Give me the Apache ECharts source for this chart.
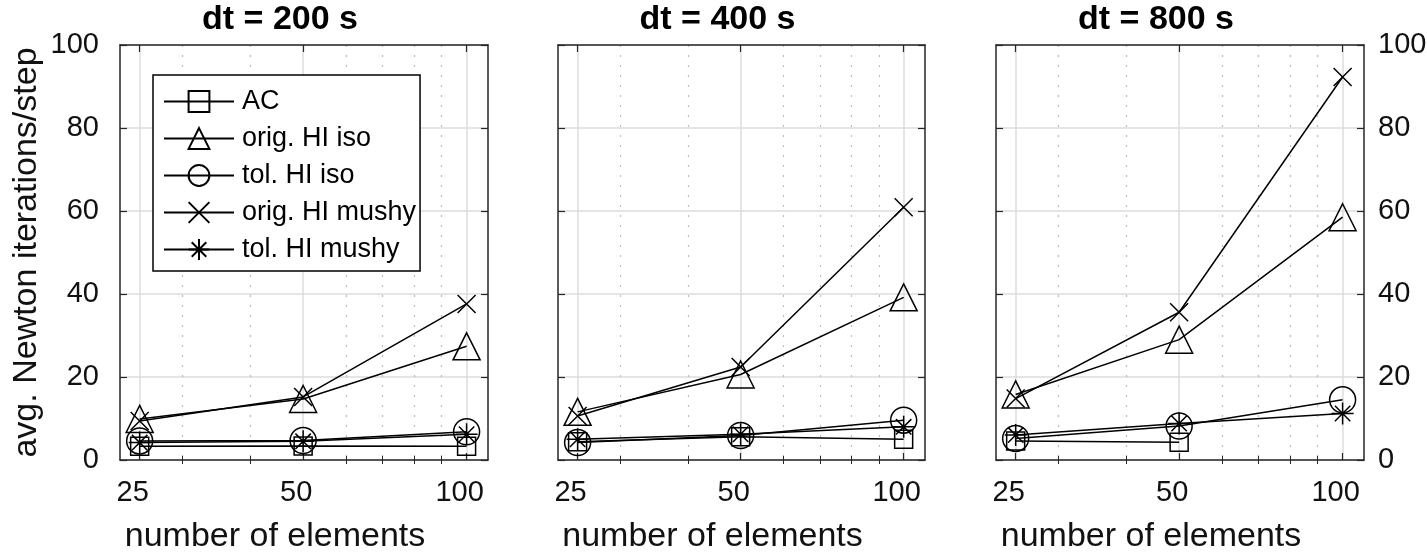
<!DOCTYPE html>
<html>
<head>
<meta charset="utf-8">
<script src="https://cdn.jsdelivr.net/npm/echarts@6/dist/echarts.min.js"></script>
<style>
html,body{margin:0;padding:0;background:#fff;}
#chart{width:1427px;height:557px;}
</style>
</head>
<body>
<div id="chart"></div>
<script>
// ---- data ----
const elements = [25, 50, 100];
const minorTicks = [30, 40, 60, 70, 80, 90];
const panelTitles = ['dt = 200 s', 'dt = 400 s', 'dt = 800 s'];
const seriesNames = ['AC', 'orig. HI iso', 'tol. HI iso', 'orig. HI mushy', 'tol. HI mushy'];

const ac200        = [3.3, 3.4, 3.3];
const origIso200   = [9.9, 14.7, 27.4];
const tolIso200    = [4.6, 4.7, 6.8];
const origMushy200 = [9.4, 15.2, 37.6];
const tolMushy200  = [4.2, 4.5, 6.2];

const ac400        = [4.4, 5.6, 5.0];
const origIso400   = [11.6, 20.6, 39.2];
const tolIso400    = [4.2, 5.9, 9.6];
const origMushy400 = [10.6, 22.4, 60.9];
const tolMushy400  = [5.0, 6.2, 8.0];

const ac800        = [4.6, 4.3, null];
const origIso800   = [15.8, 29.0, 58.5];
const tolIso800    = [5.2, 8.2, 14.5];
const origMushy800 = [14.8, 35.6, 92.3];
const tolMushy800  = [6.0, 8.8, 11.2];

const panelData = [
  [ac200, origIso200, tolIso200, origMushy200, tolMushy200],
  [ac400, origIso400, tolIso400, origMushy400, tolMushy400],
  [ac800, origIso800, tolIso800, origMushy800, tolMushy800]
];

// ---- styling ----
const FONT = "'Liberation Sans', Arial, Helvetica, sans-serif";
const AX = '#262626';
const symbols = [
  'rect',
  'triangle',
  'circle',
  'path://M0,0L10,10M10,0L0,10',
  'path://M5,0L5,10M0,5L10,5M1.5,1.5L8.5,8.5M8.5,1.5L1.5,8.5'
];
const symbolSizes = [18, 27, 26, 18, 22];

const grids = [
  {left: 120, top: 45, width: 368, height: 415, outerBoundsMode: 'none', containLabel: false},
  {left: 558, top: 45, width: 367, height: 415, outerBoundsMode: 'none', containLabel: false},
  {left: 996, top: 45, width: 368, height: 415, outerBoundsMode: 'none', containLabel: false}
];

const xMin = Math.log2(23);
const xMax = Math.log2(109.5);
const lg = v => Math.log2(v);

const xAxes = [], yAxes = [], series = [], graphics = [];
grids.forEach((g, p) => {
  const base = xAxes.length;
  // bottom main axis: labels, major ticks, major grid
  xAxes.push({
    type: 'value', gridIndex: p, position: 'bottom', min: xMin, max: xMax,
    axisLine: {show: true, onZero: false, lineStyle: {color: AX, width: 1.5}},
    axisTick: {show: true, inside: true, length: 7, lineStyle: {color: AX, width: 1.2}, customValues: elements.map(lg)},
    axisLabel: {show: true, margin: 18, fontSize: 29, fontFamily: FONT, color: '#111', padding: [0, 14, 0, 0],
      customValues: elements.map(lg), formatter: v => String(Math.round(Math.pow(2, v)))},
    splitLine: {show: true, lineStyle: {color: '#dcdcdc', width: 1.5}},
    name: 'number of elements', nameLocation: 'middle', nameGap: 60,
    nameTextStyle: {fontSize: 34, fontFamily: FONT, color: '#111', padding: [0, 58, 0, 0]}
  });
  // bottom minor axis: minor ticks + dotted minor grid
  xAxes.push({
    type: 'value', gridIndex: p, position: 'bottom', min: xMin, max: xMax,
    axisLine: {show: false},
    axisTick: {show: true, inside: true, length: 4, lineStyle: {color: AX, width: 1}, customValues: minorTicks.map(lg)},
    axisLabel: {show: false},
    splitLine: {show: true, lineStyle: {color: '#bdbdbd', width: 1.2, type: [2, 8]}}
  });
  // top axes (box)
  xAxes.push({
    type: 'value', gridIndex: p, position: 'top', min: xMin, max: xMax,
    axisLine: {show: true, onZero: false, lineStyle: {color: AX, width: 1.5}},
    axisTick: {show: true, inside: true, length: 7, lineStyle: {color: AX, width: 1.2}, customValues: elements.map(lg)},
    axisLabel: {show: false}, splitLine: {show: false}
  });
  xAxes.push({
    type: 'value', gridIndex: p, position: 'top', min: xMin, max: xMax,
    axisLine: {show: false},
    axisTick: {show: true, inside: true, length: 4, lineStyle: {color: AX, width: 1}, customValues: minorTicks.map(lg)},
    axisLabel: {show: false}, splitLine: {show: false}
  });
  const yBase = yAxes.length;
  yAxes.push({
    type: 'value', gridIndex: p, position: 'left', min: 0, max: 100, interval: 20,
    axisLine: {show: true, onZero: false, lineStyle: {color: AX, width: 1.5}},
    axisTick: {show: true, inside: true, length: 7, lineStyle: {color: AX, width: 1.2}},
    axisLabel: {show: p === 0, margin: 21, fontSize: 29, fontFamily: FONT, color: '#111'},
    splitLine: {show: true, lineStyle: {color: '#dcdcdc', width: 1.5}},
    name: p === 0 ? 'avg. Newton iterations/step' : '', nameLocation: 'middle', nameGap: 76,
    nameTextStyle: {fontSize: 34, fontFamily: FONT, color: '#111'}
  });
  yAxes.push({
    type: 'value', gridIndex: p, position: 'right', min: 0, max: 100, interval: 20,
    axisLine: {show: true, onZero: false, lineStyle: {color: AX, width: 1.5}},
    axisTick: {show: true, inside: true, length: 7, lineStyle: {color: AX, width: 1.2}},
    axisLabel: {show: p === 2, margin: 14, fontSize: 29, fontFamily: FONT, color: '#111'},
    splitLine: {show: false}
  });
  panelData[p].forEach((vals, s) => {
    series.push({
      name: seriesNames[s], type: 'line', xAxisIndex: base, yAxisIndex: yBase,
      data: elements.map((n, i) => [lg(n), vals[i]]),
      symbol: symbols[s], symbolSize: symbolSizes[s],
      showAllSymbol: true, connectNulls: false,
      lineStyle: {color: '#000', width: 1.5},
      itemStyle: {color: 'none', borderColor: '#000', borderWidth: 1.5},
      emphasis: {disabled: true}, animation: false, z: 3
    });
  });
  graphics.push({
    type: 'text', x: g.left + g.width / 2 - 24, y: 20,
    style: {text: panelTitles[p], textAlign: 'center', textVerticalAlign: 'middle',
      font: "bold 34px " + FONT, fill: '#000'}
  });
});

const chart = echarts.init(document.getElementById('chart'), null, {renderer: 'canvas'});
chart.setOption({
  animation: false,
  grid: grids,
  xAxis: xAxes,
  yAxis: yAxes,
  series: series,
  graphic: graphics,
  legend: {
    data: seriesNames, orient: 'vertical', left: 153, top: 75,
    backgroundColor: '#fff', borderColor: '#000', borderWidth: 1.5,
    padding: [13, 4, 8, 10], itemWidth: 70, itemHeight: 26, itemGap: 10,
    textStyle: {fontSize: 27, lineHeight: 26, fontFamily: FONT, color: '#000', padding: [0, 0, 0, 3]},
    selectedMode: false
  }
});
</script>
</body>
</html>
